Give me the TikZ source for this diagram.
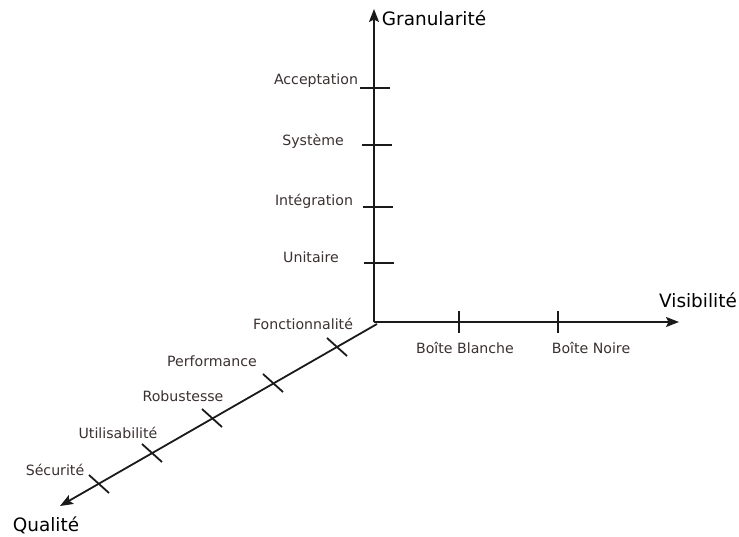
\documentclass[tikz,border=0pt]{standalone}
\usepackage{fontspec}
\setmainfont{DejaVu Sans}
\usetikzlibrary{arrows.meta}
\definecolor{labc}{HTML}{3A3030}
\definecolor{linec}{HTML}{1A1A1A}
\begin{document}
\begin{tikzpicture}[x=1bp,y=-1bp,
  axis/.style={draw=linec,line width=1.8bp,-{Stealth[length=13bp,width=10bp,inset=2.5bp]}},
  tickmark/.style={draw=linec,line width=1.8bp},
  lab/.style={font=\fontsize{14.2}{16}\selectfont,text=labc,inner sep=0pt},
  ttl/.style={font=\fontsize{18.5}{21}\selectfont,text=black,inner sep=0pt}]
\useasboundingbox (0,0) rectangle (739,537);
% axes
\coordinate (O) at (374,322);
\coordinate (Od) at (377,324);
\coordinate (Gtip) at (374,9);
\coordinate (Vtip) at (679,322);
\coordinate (Qtip) at (60,506);
\draw[axis] (O) -- (Gtip);
\draw[axis] (O) -- (Vtip);
\draw[axis] (Od) -- (Qtip);
% axis titles
\node[ttl] (gran) at (434,18) {Granularité};
\node[ttl] (vis) at (698,300) {Visibilité};
\node[ttl] (qual) at (46,525) {Qualité};
% vertical ticks
\coordinate (ta1) at (360,88);  \coordinate (ta2) at (390,88);
\coordinate (ts1) at (362,145); \coordinate (ts2) at (392,145);
\coordinate (ti1) at (363,207); \coordinate (ti2) at (393,207);
\coordinate (tu1) at (364,263); \coordinate (tu2) at (394,263);
\draw[tickmark] (ta1) -- (ta2);
\draw[tickmark] (ts1) -- (ts2);
\draw[tickmark] (ti1) -- (ti2);
\draw[tickmark] (tu1) -- (tu2);
\node[lab] (acc) at (316,81) {Acceptation};
\node[lab] (sys) at (313,141) {Système};
\node[lab] (int) at (314,201) {Intégration};
\node[lab] (uni) at (311,257) {Unitaire};
% horizontal ticks
\coordinate (tb1) at (459,311); \coordinate (tb2) at (459,333);
\coordinate (tn1) at (558,311); \coordinate (tn2) at (558,333);
\draw[tickmark] (tb1) -- (tb2);
\draw[tickmark] (tn1) -- (tn2);
\node[lab] (bb) at (465,348) {Boîte Blanche};
\node[lab] (bn) at (591,348) {Boîte Noire};
% diagonal ticks
\foreach \n/\x/\y in {f/337/347, p/273/383, r/212/418, u/152/453, s/99/484}{
  \coordinate (d\n1) at (\x-10,\y-9);
  \coordinate (d\n2) at (\x+10,\y+9);
  \draw[tickmark] (d\n1) -- (d\n2);
}
\node[lab] (fon) at (303,324) {Fonctionnalité};
\node[lab] (perf) at (212,361) {Performance};
\node[lab] (rob) at (183,396) {Robustesse};
\node[lab] (uti) at (118,433) {Utilisabilité};
\node[lab] (sec) at (55,470) {Sécurité};
\end{tikzpicture}
\end{document}
